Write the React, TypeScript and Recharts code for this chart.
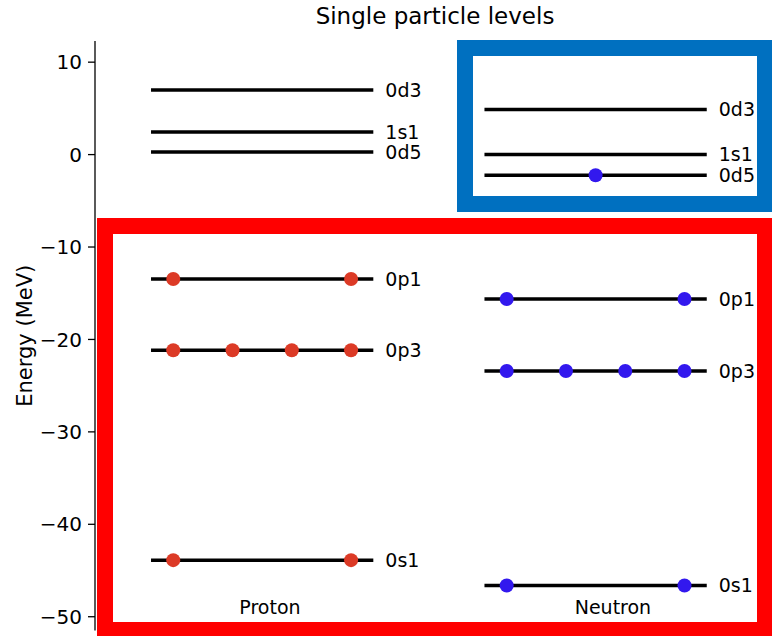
import { ComposedChart, Line, Scatter, XAxis, YAxis, Label } from 'recharts';

// single particle energies (MeV)
const levelNames = ['0d3', '1s1', '0d5', '0p1', '0p3', '0s1'];
const protonEnergies = [7.0, 2.44, 0.28, -13.46, -21.17, -43.88];
const neutronEnergies = [4.87, 0.0, -2.24, -15.62, -23.41, -46.62];
const protonOccupancy = [0, 0, 0, 2, 4, 2];
const neutronOccupancy = [0, 0, 1, 2, 4, 2];
const yTicks = [10, 0, -10, -20, -30, -40, -50];
const groups = ['Proton', 'Neutron'];

const PROTON_X = 0;
const NEUTRON_X = 1.5;
const FONT = "'DejaVu Sans', sans-serif";

const dotSlots = (n: number) => {
  if (n === 1) return [0.5];
  return Array.from({ length: n }, (_, i) => 0.1 + (0.8 * i) / (n - 1));
};

const levelLine = (x0: number, e: number) => [{ x: x0, e }, { x: x0 + 1, e }];

const dotsFor = (x0: number, energies: number[], occ: number[]) =>
  energies.flatMap((e, i) => dotSlots(occ[i]).map((s) => ({ x: x0 + s, e })));

const labelsFor = (x0: number, energies: number[]) =>
  energies.map((e, i) => ({ x: x0 + 1.054, e, name: levelNames[i] }));

const protonDots = dotsFor(PROTON_X, protonEnergies, protonOccupancy);
const neutronDots = dotsFor(NEUTRON_X, neutronEnergies, neutronOccupancy);
const levelLabels = [...labelsFor(PROTON_X, protonEnergies), ...labelsFor(NEUTRON_X, neutronEnergies)];
const groupLabels = [
  { x: 0.535, e: -49.0, name: groups[0] },
  { x: 2.078, e: -49.0, name: groups[1] },
];

const fmt = (v: number) => (v < 0 ? `\u2212${Math.abs(v)}` : `${v}`);

export default function App() {
  return (
    <div style={{ position: 'absolute', left: 0, top: 0, width: 772, height: 636, overflow: 'hidden', background: '#fff', fontFamily: FONT }}>
      <div style={{ position: 'absolute', left: 0, width: 870, top: 3, textAlign: 'center', fontSize: 23, color: '#000' }}>
        Single particle levels
      </div>
      <ComposedChart width={772} height={636} margin={{ top: 41, right: 0, bottom: 5.5, left: 0 }}>
        <XAxis
          dataKey="x" type="number" orientation="top" height={0}
          domain={[-0.252, 2.7935]} allowDataOverflow
          tick={false} tickLine={false}
          axisLine={{ stroke: '#000', strokeWidth: 1.3 }}
        />
        <YAxis
          dataKey="e" type="number" width={95}
          domain={[-51.49, 12.29]} allowDataOverflow
          ticks={yTicks} tickFormatter={fmt}
          tickSize={7} tickMargin={6}
          tick={{ fontSize: 20, fill: '#000', fontFamily: FONT }}
          tickLine={{ stroke: '#000', strokeWidth: 1.3 }}
          axisLine={{ stroke: '#000', strokeWidth: 1.3 }}
        >
          <Label
            content={({ viewBox }: any) => (
              <text
                x={viewBox.x + 32} y={viewBox.y + viewBox.height / 2}
                transform={`rotate(-90, ${viewBox.x + 32}, ${viewBox.y + viewBox.height / 2})`}
                textAnchor="middle" fontSize={21} fill="#000" fontFamily={FONT}
              >
                Energy (MeV)
              </text>
            )}
          />
        </YAxis>
        {protonEnergies.map((e, i) => (
          <Line key={`p${i}`} data={levelLine(PROTON_X, e)} dataKey="e" stroke="#000" strokeWidth={3.5}
            dot={false} activeDot={false} isAnimationActive={false} />
        ))}
        {neutronEnergies.map((e, i) => (
          <Line key={`n${i}`} data={levelLine(NEUTRON_X, e)} dataKey="e" stroke="#000" strokeWidth={3.5}
            dot={false} activeDot={false} isAnimationActive={false} />
        ))}
        <Scatter data={protonDots} dataKey="e" isAnimationActive={false}
          shape={(p: any) => <circle cx={p.cx} cy={p.cy} r={7} fill="#dc3a26" />} />
        <Scatter data={neutronDots} dataKey="e" isAnimationActive={false}
          shape={(p: any) => <circle cx={p.cx} cy={p.cy} r={7} fill="#3218ee" />} />
        <Scatter data={levelLabels} dataKey="e" isAnimationActive={false}
          shape={(p: any) => (
            <text x={p.cx} y={p.cy} dy="0.36em" fontSize={19} fill="#000" fontFamily={FONT}>{p.payload.name}</text>
          )} />
        <Scatter data={groupLabels} dataKey="e" isAnimationActive={false}
          shape={(p: any) => (
            <text x={p.cx} y={p.cy} dy="0.36em" textAnchor="middle" fontSize={19} fill="#000" fontFamily={FONT}>{p.payload.name}</text>
          )} />
      </ComposedChart>
      <div style={{ position: 'absolute', left: 457, top: 40, width: 316, height: 172, boxSizing: 'border-box', border: '16px solid #0070c0', background: 'transparent' }} />
      <div style={{ position: 'absolute', left: 97, top: 218, width: 676, height: 420, boxSizing: 'border-box', border: '16px solid #ff0000', background: 'transparent' }} />
    </div>
  );
}
